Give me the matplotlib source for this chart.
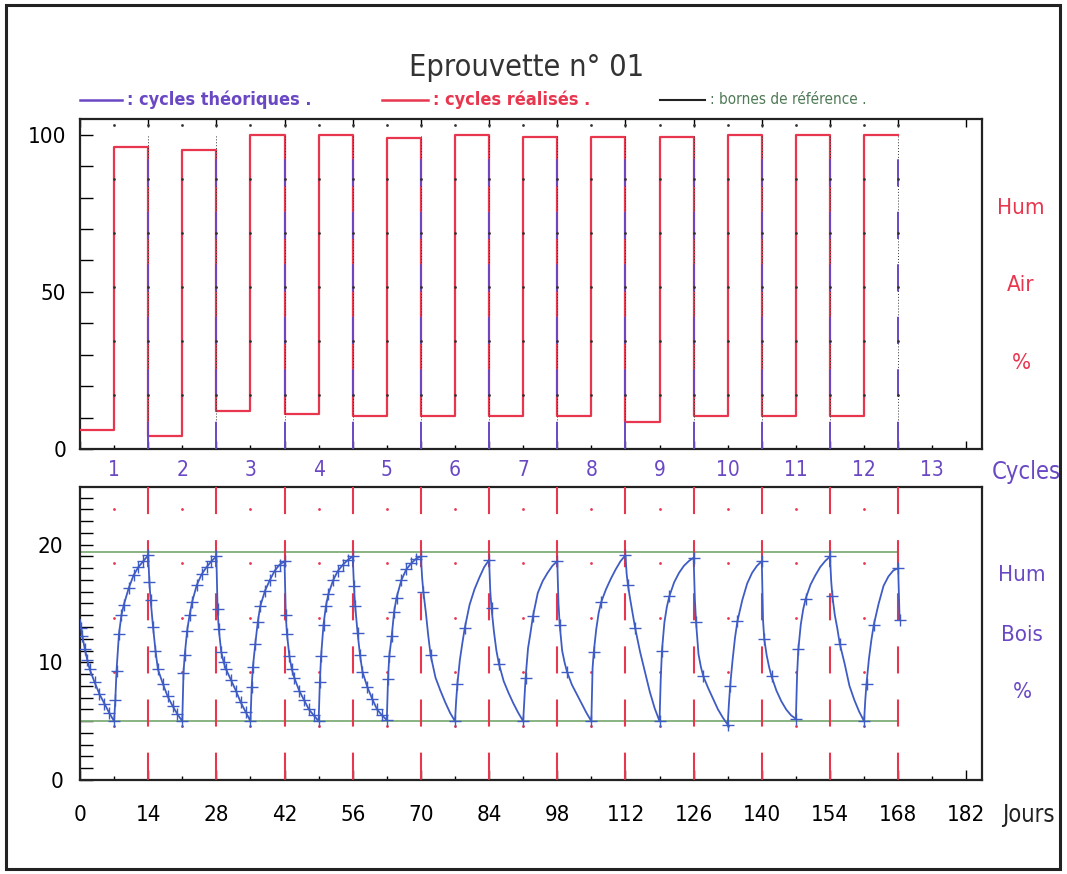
import matplotlib
matplotlib.use("Agg")
import matplotlib.pyplot as plt
from matplotlib import font_manager
from matplotlib.lines import Line2D
from matplotlib.patches import Rectangle

# ---- données ----
# humidité de l'air (%), paliers de 7 jours
jours_paliers = [0, 7, 14, 21, 28, 35, 42, 49, 56, 63, 70, 77, 84,
                 91, 98, 105, 112, 119, 126, 133, 140, 147, 154, 161, 168]
hum_air = [6, 96, 4, 95, 12, 100, 11, 100, 10.5, 99, 10.4, 100,
           10.4, 99.3, 10.4, 99.3, 8.5, 99.3, 10.4, 100, 10.4, 100, 10.4, 100]

cycles = list(range(1, 14))
jours_ticks = list(range(0, 183, 14))

# humidité du bois (%), relevés dans chaque demi-cycle de 7 jours
decal = [0, 0.25, 0.5, 1, 1.5, 2, 3, 4, 5, 6, 7]
hum_bois = [
    [13.6, 12.9, 12.2, 11.1, 10.2, 9.4, 8.3, 7.3, 6.5, 5.7, 5.0],
    [5.0, 6.8, 9.3, 12.4, 14.0, 14.9, 16.3, 17.4, 18.1, 18.6, 19.1],
    [19.1, 16.8, 15.3, 13.0, 11.0, 9.4, 8.2, 7.1, 6.3, 5.6, 5.0],
    [5.0, 9.1, 10.6, 12.7, 14.0, 15.1, 16.6, 17.5, 18.1, 18.6, 19.0],
    [19.0, 14.5, 12.8, 10.9, 10.0, 9.4, 8.5, 7.6, 6.6, 5.8, 5.0],
    [5.0, 7.9, 9.6, 11.6, 13.4, 14.75, 16.1, 17.0, 17.8, 18.3, 18.6],
    [18.6, 14.0, 12.4, 10.5, 9.4, 8.7, 7.6, 6.8, 6.0, 5.5, 5.0],
    [5.0, 8.3, 10.5, 13.2, 14.8, 15.8, 17.0, 17.8, 18.3, 18.7, 19.0],
    [19.0, 16.5, 14.8, 12.5, 10.6, 9.2, 7.9, 6.9, 6.0, 5.5, 5.1],
    [5.1, 8.6, 10.5, 12.2, 14.3, 15.5, 17.0, 17.9, 18.4, 18.8, 19.0],
    [19.0, 17.2, 16.0, 14.3, 12.3, 10.6, 8.7, 7.6, 6.6, 5.7, 5.0],
    [5.0, 6.8, 8.2, 10.2, 11.6, 12.9, 14.9, 16.2, 17.2, 18.1, 18.7],
    [18.7, 16.0, 14.6, 12.6, 11.0, 9.9, 8.4, 7.4, 6.5, 5.7, 5.0],
    [5.0, 6.9, 8.7, 11.2, 12.5, 13.9, 15.9, 16.9, 17.6, 18.2, 18.6],
    [18.6, 15.0, 13.2, 11.0, 10.0, 9.2, 8.1, 7.3, 6.5, 5.7, 5.0],
    [5.0, 9.5, 10.9, 12.8, 14.2, 15.1, 16.2, 17.1, 17.9, 18.6, 19.1],
    [19.1, 17.5, 16.6, 15.3, 14.1, 12.9, 10.9, 9.2, 7.5, 6.1, 5.0],
    [5.0, 8.6, 11.0, 13.4, 14.7, 15.6, 16.8, 17.6, 18.2, 18.6, 18.9],
    [18.9, 15.4, 13.4, 10.7, 9.6, 8.8, 7.8, 6.9, 6.0, 5.3, 4.7],
    [4.7, 6.5, 8.0, 10.2, 12.1, 13.5, 15.3, 16.7, 17.6, 18.2, 18.6],
    [18.6, 13.6, 12.0, 10.6, 9.6, 8.8, 7.6, 6.7, 6.0, 5.5, 5.2],
    [5.2, 9.0, 11.1, 13.2, 14.5, 15.4, 16.6, 17.4, 18.1, 18.6, 19.0],
    [19.0, 16.9, 15.6, 14.0, 12.9, 11.6, 9.9, 8.0, 6.8, 5.8, 5.0],
    [5.0, 6.8, 8.2, 10.3, 11.9, 13.2, 15.0, 16.5, 17.3, 17.8, 18.0],
]
fin_jours = [168, 168.3]
fin_hum = [18.0, 13.6]

borne_haute = 19.4
borne_basse = 5.05

# ---- style ----
ROUGE = '#e8364f'
VIOLET = '#6a48c4'
BLEU = '#3f5cc4'
VERT = '#7fae78'

noms = {f.name for f in font_manager.fontManager.ttflist}
if 'Liberation Sans Narrow' in noms:
    police = dict(family='Liberation Sans Narrow')
else:
    police = dict(family='DejaVu Sans', stretch='condensed')

W, H = 1067, 874
fig = plt.figure(figsize=(W / 100, H / 100), dpi=100)


def fx(px):
    return px / W


def fy(py):
    return 1 - py / H


fig.add_artist(Rectangle((fx(6), fy(869)), fx(1060) - fx(6), fy(5) - fy(869),
                         transform=fig.transFigure, fill=False, lw=2.2, ec='#222222'))

xmax = 902 / 4.87
ax1 = fig.add_axes([fx(80), fy(449), fx(902), 330 / H])
ax2 = fig.add_axes([fx(80), fy(780), fx(902), 293 / H])

# ---- panneau haut : humidité de l'air ----
ax1.step(jours_paliers, hum_air + [hum_air[-1]], where='post', color=ROUGE, lw=1.6, zorder=3)
for d in jours_ticks[1:13]:
    ax1.plot([d, d], [0, 100], color='#333333', lw=0.7, linestyle=(0, (1, 2)), zorder=3.5)
    ax1.plot([d, d], [0, 95], color=VIOLET, lw=1.4, linestyle=(0, (14, 13)), zorder=4)
niv = [17.2, 34.4, 51.6, 68.8, 86.0, 103.2]
for k in range(1, 25):
    ax1.scatter([7 * k] * len(niv), niv, s=4, color='#333333', zorder=5, lw=0)

ax1.set_xlim(0, xmax)
ax1.set_ylim(0, 105)
ax1.set_yticks([0, 50, 100])
ax1.set_yticklabels(['0', '50', '100'])
ax1.set_yticks(range(10, 100, 10), minor=True)
ax1.set_xticks(jours_ticks)
ax1.set_xticks(range(7, 183, 14), minor=True)
ax1.set_xticklabels([])
ax1.tick_params(axis='y', which='both', direction='in', length=9, width=1, left=True, right=False, pad=10)
ax1.tick_params(axis='x', which='major', direction='in', length=6, width=1, top=True, bottom=True)
ax1.tick_params(axis='x', which='minor', direction='in', length=3, width=1, top=False, bottom=True)
for s in ax1.spines.values():
    s.set_linewidth(1.6)
    s.set_color('#222222')
for lab in ax1.get_yticklabels():
    lab.set(fontsize=16, **police)

for c in cycles:
    ax1.text(14 * c - 7, -0.064, str(c), transform=ax1.get_xaxis_transform(),
             ha='center', va='center', color=VIOLET, fontsize=15, **police)

# ---- panneau bas : humidité du bois ----
t, h, tm, hm = [], [], [], []
for i, seg in enumerate(hum_bois):
    for j, v in enumerate(seg):
        if i > 0 and j == 0:
            continue
        t.append(7 * i + decal[j])
        h.append(v)
        if j > 0 and (i < 10 or j in (2, 5, 10)):
            tm.append(7 * i + decal[j])
            hm.append(v)
ax2.plot(t, h, color=BLEU, lw=1.3, zorder=4)
ax2.plot(tm, hm, ls='none', marker='+', ms=8, mew=1.0, color=BLEU, zorder=4)
ax2.plot(fin_jours, fin_hum, color=BLEU, lw=1.3, marker='+', ms=8, markevery=[1], zorder=4)

ax2.plot([0, 168], [borne_haute, borne_haute], color=VERT, lw=1.3, zorder=2)
ax2.plot([0, 168], [borne_basse, borne_basse], color=VERT, lw=1.3, zorder=2)

for d in jours_ticks[1:13]:
    ax2.plot([d, d], [24.9, 0], color=ROUGE, lw=1.5, linestyle=(0, (13, 12.5)), zorder=3)
pts = [23.0, 18.4, 13.8, 9.2, 4.6]
for k in range(12):
    ax2.scatter([14 * k + 7] * len(pts), pts, s=4, color=ROUGE, lw=0, zorder=3)

ax2.set_xlim(0, xmax)
ax2.set_ylim(0, 24.9)
ax2.set_yticks([0, 10, 20])
ax2.set_yticks(range(1, 25), minor=True)
ax2.set_xticks(jours_ticks)
ax2.set_xticklabels([str(d) for d in jours_ticks])
ax2.set_xticks(range(7, 183, 14), minor=True)
ax2.tick_params(axis='y', which='both', direction='in', length=9, width=1, pad=12)
ax2.tick_params(axis='x', which='major', direction='in', length=7, width=1, pad=18)
ax2.tick_params(axis='x', which='minor', direction='in', length=3, width=1)
for s in ax2.spines.values():
    s.set_linewidth(1.6)
    s.set_color('#222222')
for lab in ax2.get_yticklabels() + ax2.get_xticklabels():
    lab.set(fontsize=16, **police)

# ---- textes ----
fig.text(fx(527), fy(67), 'Eprouvette n° 01', ha='center', va='center',
         fontsize=22, color='#333333', fontweight='light', **police)

fig.add_artist(Line2D([fx(80), fx(122)], [fy(100), fy(100)], color=VIOLET, lw=1.8))
fig.text(fx(127), fy(100), ': cycles théoriques .', ha='left', va='center',
         fontsize=13, color=VIOLET, fontweight='bold', **police)
fig.add_artist(Line2D([fx(382), fx(428)], [fy(100), fy(100)], color=ROUGE, lw=1.8))
fig.text(fx(433), fy(100), ': cycles réalisés .', ha='left', va='center',
         fontsize=13, color=ROUGE, fontweight='bold', **police)
fig.add_artist(Line2D([fx(660), fx(705)], [fy(100), fy(100)], color='#222222', lw=1.5))
fig.text(fx(710), fy(100), ': bornes de référence .', ha='left', va='center',
         fontsize=11, color='#4f7a55', **police)

for txt, py in [('Hum', 208), ('Air', 285), ('%', 363)]:
    fig.text(fx(1021), fy(py), txt, ha='center', va='center', fontsize=16, color=ROUGE, **police)
fig.text(fx(1026), fy(472), 'Cycles', ha='center', va='center', fontsize=17, color=VIOLET, **police)
for txt, py in [('Hum', 575), ('Bois', 635), ('%', 692)]:
    fig.text(fx(1022), fy(py), txt, ha='center', va='center', fontsize=16, color=VIOLET, **police)
fig.text(fx(1028), fy(815), 'Jours', ha='center', va='center', fontsize=17, color='#222222', **police)

fig.savefig('out.png', dpi=100)
